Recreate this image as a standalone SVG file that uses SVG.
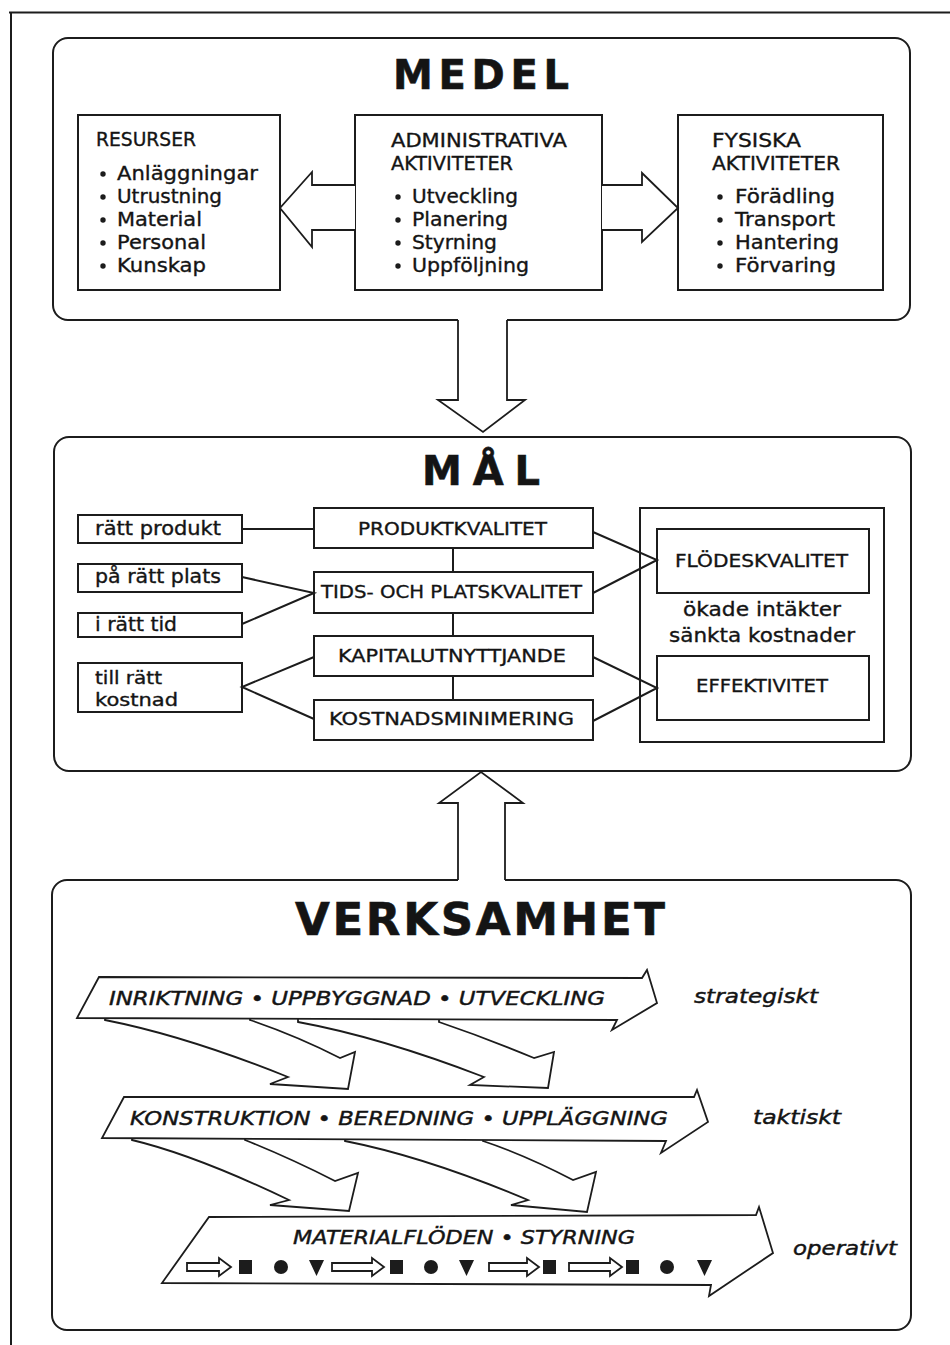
<svg xmlns="http://www.w3.org/2000/svg" width="950" height="1345" viewBox="0 0 950 1345">
<style>
.ln{fill:none;stroke:#1c1c1c;stroke-width:2;stroke-linejoin:miter}
.bx{fill:#fff;stroke:#1c1c1c;stroke-width:2}
.wf{fill:#fff;stroke:#1c1c1c;stroke-width:1.8;stroke-linejoin:miter}
.t{font-family:"DejaVu Sans","Liberation Sans",sans-serif;fill:#141414;stroke:#141414;stroke-width:0.35px;font-size:19.5px}
.c{font-size:19px}
.m{font-size:18px}
.s{font-size:17px}
.h{font-weight:bold;font-size:40px;stroke-width:0.6px}
.v{font-weight:bold;font-size:45px;stroke-width:0.6px}
.i{font-style:italic;font-size:20px;stroke-width:0.45px}
.d{fill:#1c1c1c}
</style>
<rect width="950" height="1345" fill="#fff"/>
<g id="frame">
<path class="ln" d="M9,12.5 L950,12.5 M11,12 L11,1345"/>
</g>

<g id="medel">
<path class="ln" d="M507,320 L895,320 A15,15 0 0 0 910,305 L910,53 A15,15 0 0 0 895,38 L68,38 A15,15 0 0 0 53,53 L53,305 A15,15 0 0 0 68,320 L458,320"/>
<text class="t h" x="393" y="89" textLength="176" lengthAdjust="spacing">MEDEL</text>
</g>

<g id="resurser">
<rect class="bx" x="78" y="115" width="202" height="175"/>
<text class="t c" x="96" y="146" textLength="100" lengthAdjust="spacingAndGlyphs">RESURSER</text>
<g class="d"><circle cx="103" cy="174" r="2.7"/><circle cx="103" cy="197" r="2.7"/><circle cx="103" cy="220" r="2.7"/><circle cx="103" cy="243" r="2.7"/><circle cx="103" cy="266" r="2.7"/></g>
<text class="t" x="117" y="180" textLength="141" lengthAdjust="spacingAndGlyphs">Anläggningar</text>
<text class="t" x="117" y="203" textLength="105" lengthAdjust="spacingAndGlyphs">Utrustning</text>
<text class="t" x="117" y="226" textLength="85" lengthAdjust="spacingAndGlyphs">Material</text>
<text class="t" x="117" y="249" textLength="89" lengthAdjust="spacingAndGlyphs">Personal</text>
<text class="t" x="117" y="272" textLength="89" lengthAdjust="spacingAndGlyphs">Kunskap</text>
</g>

<g id="administrativa">
<rect class="bx" x="355" y="115" width="247" height="175"/>
<text class="t c" x="391" y="147" textLength="176" lengthAdjust="spacingAndGlyphs">ADMINISTRATIVA</text>
<text class="t c" x="391" y="170" textLength="122" lengthAdjust="spacingAndGlyphs">AKTIVITETER</text>
<g class="d"><circle cx="398" cy="197" r="2.7"/><circle cx="398" cy="220" r="2.7"/><circle cx="398" cy="243" r="2.7"/><circle cx="398" cy="266" r="2.7"/></g>
<text class="t" x="412" y="203" textLength="106" lengthAdjust="spacingAndGlyphs">Utveckling</text>
<text class="t" x="412" y="226" textLength="96" lengthAdjust="spacingAndGlyphs">Planering</text>
<text class="t" x="412" y="249" textLength="85" lengthAdjust="spacingAndGlyphs">Styrning</text>
<text class="t" x="412" y="272" textLength="117" lengthAdjust="spacingAndGlyphs">Uppföljning</text>
</g>

<g id="fysiska">
<rect class="bx" x="678" y="115" width="205" height="175"/>
<text class="t c" x="712" y="147" textLength="89" lengthAdjust="spacingAndGlyphs">FYSISKA</text>
<text class="t c" x="712" y="170" textLength="128" lengthAdjust="spacingAndGlyphs">AKTIVITETER</text>
<g class="d"><circle cx="720" cy="197" r="2.7"/><circle cx="720" cy="220" r="2.7"/><circle cx="720" cy="243" r="2.7"/><circle cx="720" cy="266" r="2.7"/></g>
<text class="t" x="735" y="203" textLength="100" lengthAdjust="spacingAndGlyphs">Förädling</text>
<text class="t" x="735" y="226" textLength="100" lengthAdjust="spacingAndGlyphs">Transport</text>
<text class="t" x="735" y="249" textLength="104" lengthAdjust="spacingAndGlyphs">Hantering</text>
<text class="t" x="735" y="272" textLength="101" lengthAdjust="spacingAndGlyphs">Förvaring</text>
</g>

<g id="mal">
<rect class="ln" x="54" y="437" width="857" height="334" rx="15"/>
<text class="t h" x="422" y="485" textLength="118" lengthAdjust="spacing">MÅL</text>
</g>

<g id="ratt-produkt"><rect class="bx" x="78" y="515" width="164" height="28"/><text class="t" x="95" y="535" textLength="126" lengthAdjust="spacingAndGlyphs">rätt produkt</text></g>
<g id="ratt-plats"><rect class="bx" x="78" y="564" width="164" height="28"/><text class="t" x="95" y="583" textLength="126" lengthAdjust="spacingAndGlyphs">på rätt plats</text></g>
<g id="ratt-tid"><rect class="bx" x="78" y="613" width="164" height="24"/><text class="t" x="95" y="631" textLength="82" lengthAdjust="spacingAndGlyphs">i rätt tid</text></g>
<g id="ratt-kostnad"><rect class="bx" x="78" y="663" width="164" height="49"/><text class="t s" x="95" y="684" textLength="67" lengthAdjust="spacingAndGlyphs">till rätt</text><text class="t s" x="95" y="706" textLength="83" lengthAdjust="spacingAndGlyphs">kostnad</text></g>

<g id="produktkvalitet"><rect class="bx" x="314" y="508" width="279" height="40"/><text class="t m" x="358" y="535" textLength="189" lengthAdjust="spacingAndGlyphs">PRODUKTKVALITET</text></g>
<g id="tidskvalitet"><rect class="bx" x="314" y="572" width="279" height="41"/><text class="t m" x="321" y="598" textLength="261" lengthAdjust="spacingAndGlyphs">TIDS- OCH PLATSKVALITET</text></g>
<g id="kapital"><rect class="bx" x="314" y="636" width="279" height="40"/><text class="t m" x="338" y="662" textLength="228" lengthAdjust="spacingAndGlyphs">KAPITALUTNYTTJANDE</text></g>
<g id="kostnadsmin"><rect class="bx" x="314" y="700" width="279" height="40"/><text class="t m" x="329" y="725" textLength="245" lengthAdjust="spacingAndGlyphs">KOSTNADSMINIMERING</text></g>

<g id="resultat">
<rect class="bx" x="640" y="508" width="244" height="234"/>
<text class="t" x="683" y="616" textLength="158" lengthAdjust="spacingAndGlyphs">ökade intäkter</text>
<text class="t" x="669" y="642" textLength="186" lengthAdjust="spacingAndGlyphs">sänkta kostnader</text>
</g>
<g id="flodeskvalitet"><rect class="bx" x="657" y="529" width="212" height="64"/><text class="t m" x="675" y="567" textLength="173" lengthAdjust="spacingAndGlyphs">FLÖDESKVALITET</text></g>
<g id="effektivitet"><rect class="bx" x="657" y="656" width="212" height="64"/><text class="t m" x="696" y="692" textLength="132" lengthAdjust="spacingAndGlyphs">EFFEKTIVITET</text></g>

<g id="verksamhet">
<path class="ln" d="M505,880 L896,880 A15,15 0 0 1 911,895 L911,1315 A15,15 0 0 1 896,1330 L67,1330 A15,15 0 0 1 52,1315 L52,895 A15,15 0 0 1 67,880 L458,880"/>
<text class="t v" x="295" y="935" textLength="370" lengthAdjust="spacing">VERKSAMHET</text>
</g>

<g id="connectors">
<path class="wf" d="M355,185 L312,185 L312,172 L280,208 L312,247 L312,230 L355,230"/>
<path class="wf" d="M602,185 L642,185 L642,173 L678,208 L642,242 L642,230 L602,230"/>
<path class="wf" d="M458,320 L458,400 L438,400 L483,432 L525,400 L507,400 L507,320"/>
<path class="wf" d="M458,880 L458,803 L439,803 L481,772 L523,803 L505,803 L505,880"/>
<path class="ln" d="M453,548 L453,572 M453,613 L453,636 M453,676 L453,700"/>
<path class="ln" d="M242,529 L314,529 M242,577 L314,593 L242,624 M314,657 L242,687 L314,719"/>
<path class="ln" d="M593,532 L657,560 L593,593 M593,657 L657,688 L593,721"/>
<path class="wf" d="M105,1016 L105,1020 Q186,1036 288,1077 L270,1084 L348,1089 L355,1052 L340,1058 Q297,1036 250,1020 L250,1016 Z"/>
<path class="wf" d="M298,1016 L298,1022 Q380,1037 484,1077 L470,1085 L548,1088 L554,1052 L534,1058 Q486,1038 439,1022 L439,1016 Z"/>
<path class="wf" d="M132,1135 L132,1140 Q195,1155 289,1200 L270,1205 L349,1211 L358,1173 L335,1181 Q290,1158 245,1140 L245,1135 Z"/>
<path class="wf" d="M345,1135 L345,1141 Q426,1157 528,1200 L511,1205 L587,1212 L596,1172 L573,1180 Q525,1155 483,1141 L483,1135 Z"/>
</g>

<g id="strategiskt">
<path class="wf" d="M99,977 L642,978 L647,970 L657,1003 L612,1030 L617,1020 L77,1018 Z"/>
<text class="t i" x="109" y="1005" textLength="496" lengthAdjust="spacingAndGlyphs">INRIKTNING • UPPBYGGNAD • UTVECKLING</text>
<text class="t i" x="694" y="1003" textLength="124" lengthAdjust="spacingAndGlyphs">strategiskt</text>
</g>

<g id="taktiskt">
<path class="wf" d="M124,1097 L694,1097 L697,1090 L708,1122 L661,1153 L666,1141 L102,1138 Z"/>
<text class="t i" x="130" y="1125" textLength="538" lengthAdjust="spacingAndGlyphs">KONSTRUKTION • BEREDNING • UPPLÄGGNING</text>
<text class="t i" x="753" y="1124" textLength="88" lengthAdjust="spacingAndGlyphs">taktiskt</text>
</g>

<g id="operativt">
<path class="wf" d="M209,1217 L756,1215 L759,1207 L773,1253 L709,1296 L711,1285 L162,1283 Z"/>
<text class="t i" x="293" y="1244" textLength="342" lengthAdjust="spacingAndGlyphs">MATERIALFLÖDEN • STYRNING</text>
<text class="t i" x="793" y="1255" textLength="104" lengthAdjust="spacingAndGlyphs">operativt</text>
<g>
<path class="wf" stroke-width="1.5" d="M187,1263 L219,1263 L219,1258 L231,1267 L219,1276 L219,1271 L187,1271 Z"/>
<path class="wf" stroke-width="1.5" d="M332,1263 L372,1263 L372,1258 L384,1267 L372,1276 L372,1271 L332,1271 Z"/>
<path class="wf" stroke-width="1.5" d="M489,1263 L527,1263 L527,1258 L539,1267 L527,1276 L527,1271 L489,1271 Z"/>
<path class="wf" stroke-width="1.5" d="M569,1263 L610,1263 L610,1258 L622,1267 L610,1276 L610,1271 L569,1271 Z"/>
<g class="d">
<rect x="239" y="1260" width="13" height="14"/>
<rect x="390" y="1260" width="13" height="14"/>
<rect x="543" y="1260" width="13" height="14"/>
<rect x="626" y="1260" width="13" height="14"/>
<circle cx="281" cy="1267" r="7"/>
<circle cx="431" cy="1267" r="7"/>
<circle cx="667" cy="1267" r="7"/>
<path d="M309,1260 L324,1260 L316.5,1276 Z"/>
<path d="M459,1260 L474,1260 L466.5,1276 Z"/>
<path d="M697,1260 L712,1260 L704.5,1276 Z"/>
</g>
</g>
</g>
</svg>
